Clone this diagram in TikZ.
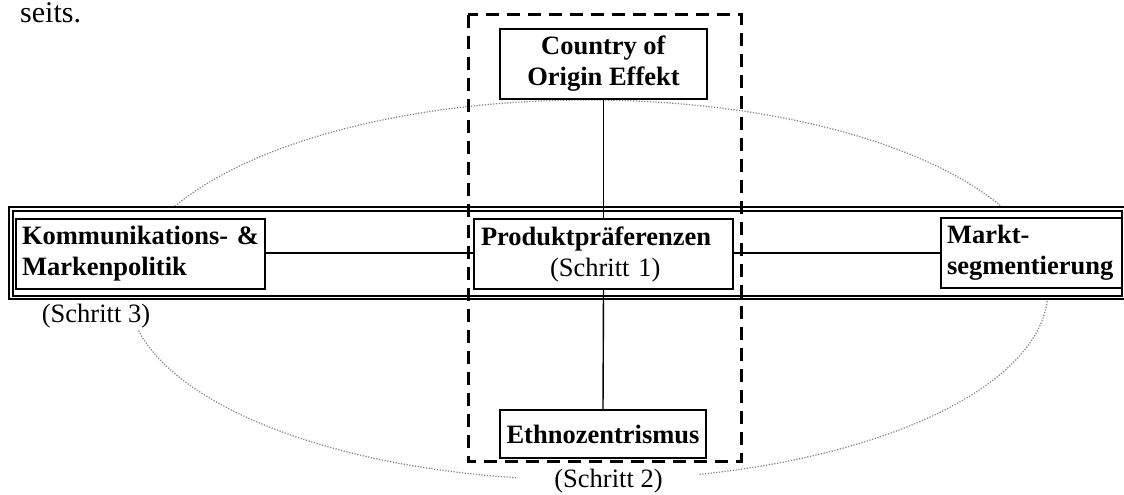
\documentclass[tikz,border=0pt]{standalone}
\usepackage{fontspec}
\setmainfont{Liberation Serif}
\begin{document}
\begin{tikzpicture}[x=1pt,y=-1pt,
  every node/.style={font=\fontsize{26.5}{31}\selectfont},
  box/.style={draw, line width=1.6pt, fill=white, rectangle, inner sep=0pt},
  link/.style={line width=1.4pt},
  stage/.style={fill=white, inner sep=2pt},
  orbit/.style={draw=black!50, line width=1.2pt, dash pattern=on 1.2pt off 1.6pt},
  focus/.style={line width=3pt, dash pattern=on 13pt off 8pt}
]
\useasboundingbox (0,0) rectangle (1124,495);

% preceding line of running text
\node[anchor=base west, inner sep=0pt, font=\fontsize{30}{34}\selectfont] (seits) at (20,23) {seits.};

% dotted ellipse around the whole scheme
\draw[orbit] (588,290) ellipse [x radius=460, y radius=190];

% horizontal band with double frame
\draw[line width=1.3pt, fill=white] (9,207) rectangle (1126,299);
\draw[line width=1.3pt] (13,211) rectangle (1122,296);

% boxes
\node[box, minimum width=207pt, minimum height=70pt, align=center] (coo) at (603.5,64)
  {\textbf{Country of}\\\textbf{Origin Effekt}};
\node[box, minimum width=259pt, minimum height=70pt, align=left, inner xsep=7pt, text width=245pt] (prod) at (603.5,254)
  {\textbf{Produktpräferenzen}\\\hspace*{69pt}(Schritt 1)};
\node[box, minimum width=206pt, minimum height=48pt, align=center] (ethno) at (603,434)
  {\textbf{Ethnozentrismus}};
\node[box, minimum width=249pt, minimum height=70pt, align=left, inner xsep=6pt, text width=237pt] (komm) at (140.5,254)
  {\mbox{\textbf{Kommunikations- \&}}\\\textbf{Markenpolitik}};
\node[box, minimum width=181pt, minimum height=70pt, align=left, inner xsep=6pt, text width=169pt] (markt) at (1031.5,253)
  {\textbf{Markt-}\\\mbox{\textbf{segmentierung}}};

% connectors between the boxes
\draw[link] (coo.south) -- (prod.north);
\draw[link] (prod.south) -- (ethno.north);
\draw[link] (komm.east |- 0,253) -- (prod.west |- 0,253);
\draw[link] (prod.east |- 0,253) -- (markt.west |- 0,253);

% step labels
\node[stage, anchor=base] (s3) at (96,322) {(Schritt 3)};
\node[stage, anchor=base, inner xsep=36pt] (s2) at (608.5,487) {(Schritt 2)};

% dashed frame around the vertical axis
\draw[focus] (468,15) rectangle (741,461);
\end{tikzpicture}
\end{document}
